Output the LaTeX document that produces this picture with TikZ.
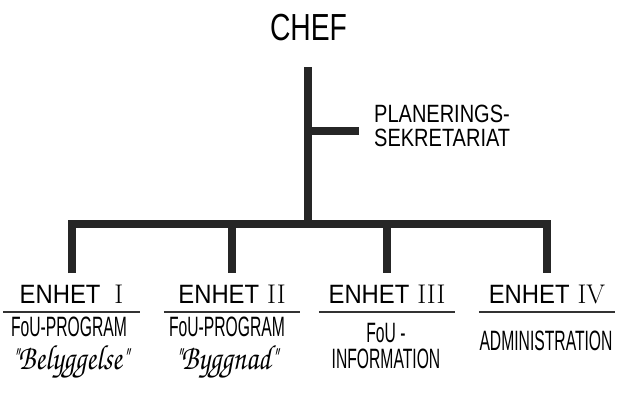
\documentclass[tikz,border=0pt]{standalone}
\usepackage{fontspec}
\newfontfamily\handwide[FakeStretch=0.75]{Liberation Sans}
\newfontfamily\handmid[FakeStretch=0.8]{Liberation Sans}
\newfontfamily\handenh[FakeStretch=0.9]{Liberation Sans}
\newfontfamily\handnarrow[FakeStretch=0.56]{Liberation Sans}
\newfontfamily\cursive[FakeStretch=0.82]{texgyrechorus-mediumitalic.otf}
\usetikzlibrary{positioning,calc}
\tikzset{
  trunk/.style={draw=black!85,line width=8pt,line join=miter},
  rule/.style={draw=black!80,line width=1.4pt},
  title/.style={font=\handwide\fontsize{37.7}{38}\selectfont,inner sep=0pt,anchor=base},
  plan/.style={font=\handmid\fontsize{25}{23.5}\selectfont,inner sep=0pt,align=left,anchor=north west},
  enhet/.style={font=\handenh\fontsize{26.5}{27}\selectfont,inner sep=0pt,minimum width=136pt,anchor=base},
  sub/.style={font=\handnarrow\fontsize{28}{28}\selectfont,inner sep=0pt,anchor=base},
  cur/.style={font=\cursive\fontsize{35}{35}\selectfont,inner sep=0pt,anchor=base},
}

\begin{document}
\begin{tikzpicture}[x=1pt,y=-1pt]
  \useasboundingbox (0,0) rectangle (617,392);
  \node[title] (chef) at (308.5,40) {CHEF};
  \node[plan] (plan) at (374,105) {PLANERINGS-\\SEKRETARIAT};
  \coordinate (top) at (307.5,67);
  \coordinate (hub) at (307.5,224);
  \coordinate (side) at (359,131);
  % units
  \foreach \x/\num/\gap [count=\i] in {71.5/I/14pt,232/II/8pt,387/III/8pt,547/IV/8pt}
  {
    \node[enhet] (e\i) at (\x,303) {ENHET\hspace{\gap}{\rmfamily\fontsize{27}{27}\selectfont\num}};
    \draw[rule] ([yshift=-9pt]e\i.base west) -- ([yshift=-9pt]e\i.base east);
    \coordinate (j\i) at (\x,224);
    \coordinate (f\i) at (\x,273);
  }
  \draw[trunk] (f1) -- (j1) -- (j4) -- (f4);
  \draw[trunk] (j2) -- (f2) (j3) -- (f3);
  \draw[trunk] (top) -- (hub);
  \draw[trunk] (top |- side) -- (side);
  % descriptions
  \node[sub] (d1) at (69,336) {FoU-PROGRAM};
  \node[cur] (q1) at (70,369) {"Belyggelse"};
  \node[sub] (d2) at (227,336) {FoU-PROGRAM};
  \node[cur] (q2) at (226,369) {"Byggnad"};
  \node[sub] (d3) at (386,342) {FoU -};
  \node[sub] (d3b) at (386,368) {INFORMATION};
  \node[sub] (d4) at (546,350) {ADMINISTRATION};
\end{tikzpicture}
\end{document}
